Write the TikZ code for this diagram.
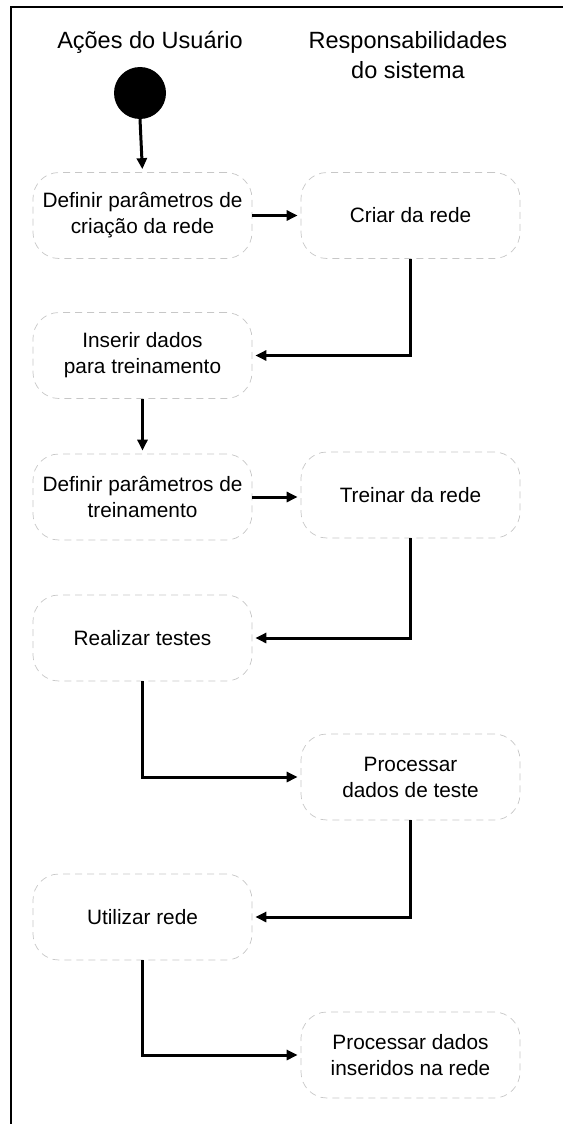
\documentclass[tikz,border=0pt]{standalone}
\usepackage{fontspec}
\setmainfont{Liberation Sans}
\usetikzlibrary{arrows.meta}
\begin{document}
\begin{tikzpicture}[x=1pt,y=-1pt,
  actbox/.style={draw=black!22, line width=0.7pt, dash pattern=on 7pt off 5pt,
    rounded corners=26pt, minimum width=219pt, minimum height=86pt,
    align=center, inner sep=0pt, font=\fontsize{20.8}{26}\selectfont},
  hdr/.style={align=center, font=\fontsize{23.5}{30}\selectfont},
  flow/.style={line width=3pt, -{Triangle[length=11pt,width=10pt]}, shorten >=3pt},
  frame/.style={line width=2.6pt}]
\useasboundingbox (0,0) rectangle (566,1124);
\draw[frame] (11,1124) -- (11,7) -- (563,7);
\node[hdr] (h1) at (150,42) {Ações do Usuário};
\node[hdr] (h2) at (408,55) {Responsabilidades\\do sistema};
\node[circle, fill=black, minimum size=52pt, inner sep=0pt] (start) at (140,93) {};
\node[actbox] (b1) at (142.5,215.5) {Definir parâmetros de\\criação da rede};
\node[actbox] (b2) at (410.5,215.5) {Criar da rede};
\node[actbox] (b3) at (142.5,355.5) {Inserir dados\\para treinamento};
\node[actbox] (b4) at (142.5,497) {Definir parâmetros de\\treinamento};
\node[actbox] (b5) at (410.5,495) {Treinar da rede};
\node[actbox] (b6) at (142.5,638) {Realizar testes};
\node[actbox] (b7) at (410.5,777) {Processar\\dados de teste};
\node[actbox] (b8) at (142.5,917) {Utilizar rede};
\node[actbox] (b9) at (410.5,1055) {Processar dados\\inseridos na rede};
\draw[flow] (start.south) -- (b1.north);
\draw[flow] (b1.east) -- (b2.west);
\draw[flow] (b2.south) |- (b3.east);
\draw[flow] (b3.south) -- (b4.north);
\draw[flow] (b4.east) -- (b4.east -| b5.west);
\draw[flow] (b5.south) |- (b6.east);
\draw[flow] (b6.south) |- (b7.west);
\draw[flow] (b7.south) |- (b8.east);
\draw[flow] (b8.south) |- (b9.west);
\end{tikzpicture}
\end{document}
